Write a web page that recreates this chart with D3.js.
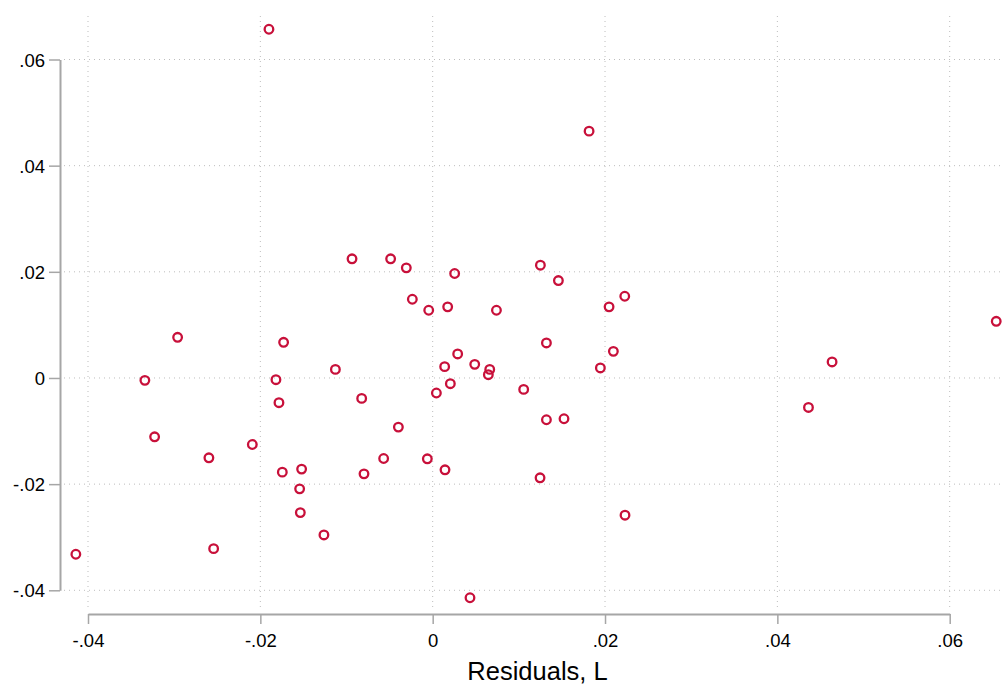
<!DOCTYPE html>
<html>
<head>
<meta charset="utf-8">
<script src="https://cdn.jsdelivr.net/npm/d3@7"></script>
<style>
  body { margin: 0; background: #fff; }
  svg { display: block; font-family: "Liberation Sans", Arial, sans-serif; }
</style>
</head>
<body>
<div id="chart"></div>
<script>
const width = 1003, height = 684;

// residuals of L (x) against residuals of the outcome (y)
const residL = [
  -0.0190, 0.01815, -0.00936, -0.00488, -0.00306, -0.00236, -0.00046, 0.00174,
  0.00255, 0.0074, 0.0125, 0.01459, 0.02047, 0.02229, 0.0654, -0.0296,
  -0.0173, -0.01129, -0.0334, -0.01819, -0.01784, -0.03227, -0.02093, -0.02597,
  -0.01745, -0.01521, -0.01544, -0.01536, -0.01262, -0.02542, -0.04141, -0.00824,
  -0.00398, -0.00569, -0.00797, -0.00062, 0.00143, 0.00043, 0.00139, 0.00205,
  0.0029, 0.00488, 0.00662, 0.00646, 0.01056, 0.0132, 0.02097, 0.01946,
  0.0132, 0.01524, 0.01246, 0.02232, 0.00433, 0.04635, 0.04361
];
const residY = [
  0.0657, 0.0465, 0.02245, 0.02245, 0.02075, 0.01483, 0.01276, 0.0134,
  0.01968, 0.01276, 0.02125, 0.01836, 0.0134, 0.0154, 0.01068, 0.00766,
  0.00672, 0.00162, -0.00045, -0.00032, -0.00466, -0.01108, -0.01253, -0.01504,
  -0.01774, -0.01717, -0.02089, -0.02536, -0.02957, -0.03215, -0.03321, -0.00385,
  -0.00925, -0.01517, -0.01806, -0.01523, -0.0173, -0.00283, 0.00213, -0.00108,
  0.00453, 0.00257, 0.00162, 0.00062, -0.00215, 0.0066, 0.00502, 0.00189,
  -0.00787, -0.00768, -0.01881, -0.02585, -0.0414, 0.00302, -0.00555
];
const xTicks = [-0.04, -0.02, 0, 0.02, 0.04, 0.06];
const yTicks = [-0.04, -0.02, 0, 0.02, 0.04, 0.06];
const xTitle = "Residuals, L";

// stata style labels: "-.04", ".02", "0" (plain hyphen)
const fmt = v => v === 0 ? "0" : (v < 0 ? "-" : "") + Math.abs(v).toFixed(2).replace(/^0/, "");

const xScale = d3.scaleLinear().domain([-0.04, 0.06]).range([88, 949.7]);
const yScale = d3.scaleLinear().domain([-0.04, 0.06]).range([590.3, 59.5]);

const svg = d3.select("#chart")
  .append("svg")
    .attr("width", width)
    .attr("height", height);

// dotted grid
const grid = svg.append("g")
  .attr("stroke", "#bdbdbd")
  .attr("stroke-width", 1)
  .attr("stroke-dasharray", "1,4");

grid.selectAll(".vgrid")
  .data(xTicks)
  .join("line")
    .attr("class", "vgrid")
    .attr("x1", d => xScale(d)).attr("x2", d => xScale(d))
    .attr("y1", 16).attr("y2", 607);

grid.selectAll(".hgrid")
  .data(yTicks)
  .join("line")
    .attr("class", "hgrid")
    .attr("y1", d => yScale(d)).attr("y2", d => yScale(d))
    .attr("x1", 64).attr("x2", width);

// axes
const xAxis = svg.append("g")
  .attr("transform", "translate(0,614)")
  .call(d3.axisBottom(xScale).tickValues(xTicks).tickFormat(fmt).tickSize(10).tickPadding(10).tickSizeOuter(0));

const yAxis = svg.append("g")
  .attr("transform", "translate(60,0)")
  .call(d3.axisLeft(yScale).tickValues(yTicks).tickFormat(fmt).tickSize(11).tickPadding(4).tickSizeOuter(0));

[xAxis, yAxis].forEach(ax => {
  ax.select(".domain").attr("stroke", "#a6a6a6").attr("stroke-width", 2);
  ax.selectAll(".tick line").attr("stroke", "#a6a6a6").attr("stroke-width", 1.5);
  ax.selectAll(".tick text")
    .attr("fill", "#000")
    .style("font-family", "'Liberation Sans', Arial, sans-serif")
    .style("font-size", "18.5px");
});
yAxis.selectAll(".tick text").attr("dy", "0.36em");

svg.append("text")
  .attr("x", 537.5)
  .attr("y", 680)
  .attr("text-anchor", "middle")
  .style("font-size", "25.5px")
  .attr("fill", "#000")
  .text(xTitle);

// markers
const points = residL.map((x, i) => ({ x, y: residY[i] }));

svg.append("g")
  .selectAll("circle")
  .data(points)
  .join("circle")
    .attr("cx", d => xScale(d.x))
    .attr("cy", d => yScale(d.y))
    .attr("r", 4.3)
    .attr("fill", "none")
    .attr("stroke", "#c8103a")
    .attr("stroke-width", 2.3);
</script>
</body>
</html>
